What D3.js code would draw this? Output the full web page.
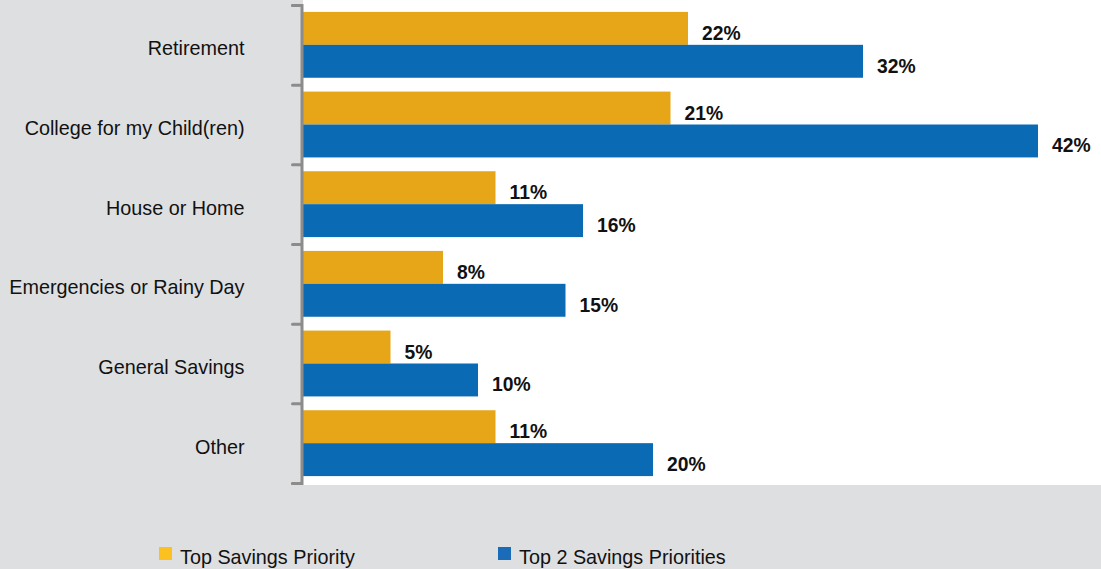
<!DOCTYPE html>
<html>
<head>
<meta charset="utf-8">
<script src="https://cdn.jsdelivr.net/npm/d3@7"></script>
<style>
  html, body { margin: 0; padding: 0; background: #dedfe1; }
  svg { display: block; font-family: "Liberation Sans", Arial, sans-serif; }
</style>
</head>
<body>
<svg id="chart" width="1101" height="569"></svg>
<script>
// Savings priorities, share of respondents (%)
const categories = [
  "Retirement",
  "College for my Child(ren)",
  "House or Home",
  "Emergencies or Rainy Day",
  "General Savings",
  "Other"
];
const seriesNames = ["Top Savings Priority", "Top 2 Savings Priorities"];
const topPriority = [22, 21, 11, 8, 5, 11];
const top2Priorities = [32, 42, 16, 15, 10, 20];

const barColors = ["#e6a617", "#0a6ab4"];
const legendColors = ["#fdc021", "#1b6cb8"];

const W = 1101, H = 569;
const plot = { left: 303, right: 1101, top: 0, bottom: 485 };
const axisTop = 5, axisBottom = 483;
const fontSize = "19.8px";

const svg = d3.select("#chart");

// gray canvas with white plotting area
svg.append("rect").attr("width", W).attr("height", H).attr("fill", "#dedfe1");
svg.append("rect")
  .attr("x", plot.left).attr("y", plot.top)
  .attr("width", plot.right - plot.left).attr("height", plot.bottom - plot.top)
  .attr("fill", "#ffffff");

const x = d3.scaleLinear().domain([0, 45.6]).range([plot.left, plot.right]);
const y = d3.scaleBand().domain(categories).range([axisTop, axisBottom]).padding(0);
const ySub = d3.scaleBand().domain(seriesNames).range([0, y.bandwidth()])
  .paddingInner(0).paddingOuter(0.21);

const rows = categories.map((c, i) => ({
  category: c,
  values: [topPriority[i], top2Priorities[i]]
}));

const groups = svg.append("g").selectAll("g.row")
  .data(rows).join("g")
  .attr("class", "row")
  .attr("transform", d => `translate(0,${y(d.category)})`);

groups.selectAll("rect")
  .data(d => d.values.map((v, k) => ({ v, k })))
  .join("rect")
  .attr("x", x(0))
  .attr("y", d => ySub(seriesNames[d.k]))
  .attr("width", d => x(d.v) - x(0))
  .attr("height", ySub.bandwidth())
  .attr("fill", d => barColors[d.k]);

groups.selectAll("text.value")
  .data(d => d.values.map((v, k) => ({ v, k })))
  .join("text")
  .attr("class", "value")
  .attr("x", d => x(d.v) + 14)
  .attr("y", d => ySub(seriesNames[d.k]) + ySub.bandwidth() / 2 + 11.5)
  .attr("font-size", "19.3px")
  .attr("font-weight", "bold")
  .attr("fill", "#111")
  .text(d => d.v + "%");

// category axis with ticks on band boundaries
const yEdges = d3.scaleLinear().domain([0, categories.length]).range([axisTop, axisBottom]);
const axis = svg.append("g")
  .attr("transform", `translate(${plot.left - 1.5},0)`)
  .call(d3.axisLeft(yEdges)
    .tickValues(d3.range(0, categories.length + 1))
    .tickFormat("")
    .tickSize(9)
    .tickSizeOuter(9));
axis.selectAll("path, line")
  .attr("stroke", "#8c8c8c")
  .attr("stroke-width", 3)
  .attr("stroke-linecap", "round")
  .attr("fill", "none");

svg.append("g").selectAll("text.cat")
  .data(categories).join("text")
  .attr("class", "cat")
  .attr("x", 244.5)
  .attr("y", d => y(d) + y.bandwidth() / 2 + 10.5)
  .attr("text-anchor", "end")
  .attr("font-size", fontSize)
  .attr("fill", "#111")
  .text(d => d);

// legend
const legendX = [159, 498];
const legend = svg.append("g").selectAll("g")
  .data(seriesNames).join("g")
  .attr("transform", (d, i) => `translate(${legendX[i]},547)`);
legend.append("rect")
  .attr("width", 13).attr("height", 13)
  .attr("fill", (d, i) => legendColors[i]);
legend.append("text")
  .attr("x", 21).attr("y", 17)
  .attr("font-size", fontSize)
  .attr("fill", "#111")
  .text(d => d);
</script>
</body>
</html>
